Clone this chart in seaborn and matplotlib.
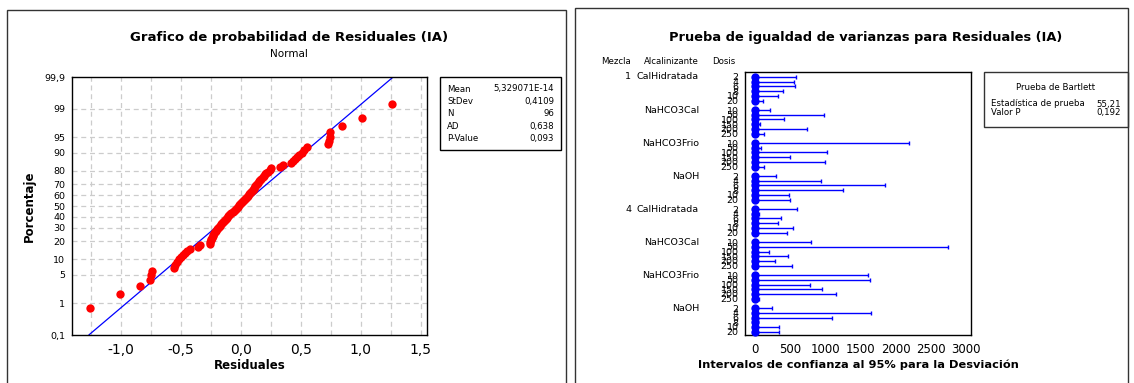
import numpy as np
import pandas as pd
import matplotlib
matplotlib.use("Agg")
import matplotlib.pyplot as plt
import matplotlib.transforms as mtransforms
from matplotlib.patches import Rectangle
import seaborn as sns
from statistics import NormalDist

# ---- left panel: residuals (sorted)
residuals = [
    -1.262, -1.006, -0.845, -0.757, -0.755, -0.742, -0.562, -0.548, -0.532, -0.515,
    -0.500, -0.485, -0.470, -0.450, -0.428, -0.360, -0.345, -0.262, -0.256, -0.250,
    -0.247, -0.243, -0.236, -0.230, -0.224, -0.217, -0.210, -0.202, -0.195, -0.187,
    -0.178, -0.170, -0.162, -0.153, -0.145, -0.137, -0.128, -0.118, -0.110, -0.101,
    -0.092, -0.080, -0.069, -0.061, -0.053, -0.045, -0.037, -0.028, -0.020, -0.011,
    -0.003, 0.006, 0.014, 0.023, 0.032, 0.041, 0.050, 0.058, 0.066, 0.074,
    0.082, 0.090, 0.098, 0.105, 0.112, 0.119, 0.126, 0.133, 0.140, 0.150,
    0.160, 0.170, 0.180, 0.190, 0.200, 0.212, 0.225, 0.238, 0.250, 0.327,
    0.348, 0.418, 0.430, 0.448, 0.466, 0.485, 0.505, 0.528, 0.553, 0.728,
    0.735, 0.742, 0.745, 0.840, 1.008, 1.256,
]
fit_mean = 0.0
fit_sd = 0.4109
prob_ticks = [0.1, 1, 5, 10, 20, 30, 40, 50, 60, 70, 80, 90, 95, 99, 99.9]
prob_labels = ["0,1", "1", "5", "10", "20", "30", "40", "50", "60", "70", "80", "90", "95", "99", "99,9"]
res_ticks = [-1.0, -0.5, 0.0, 0.5, 1.0, 1.5]
res_labels = ["-1,0", "-0,5", "0,0", "0,5", "1,0", "1,5"]
stat_names = ["Mean", "StDev", "N", "AD", "P-Value"]
stat_values = ["5,329071E-14", "0,4109", "96", "0,638", "0,093"]

# ---- right panel: intervals for the std deviation
mezcla = ["1", "4"]
alcalinizante = ["CalHidratada", "NaHCO3Cal", "NaHCO3Frio", "NaOH"]
dosis = [
    ["2", "4", "6", "8", "10", "20"],
    ["10", "50", "100", "150", "200", "250"],
    ["10", "50", "100", "150", "200", "250"],
    ["2", "4", "6", "8", "10", "20"],
]
sigma = [
    0.38, 0.36, 0.37, 0.26, 0.21, 0.08,
    0.14, 0.64, 0.27, 0.05, 0.48, 0.09,
    1.43, 0.05, 0.66, 0.33, 0.65, 0.08,
    0.19, 0.61, 1.20, 0.81, 0.32, 0.32,
    0.39, 0.04, 0.24, 0.21, 0.35, 0.29,
    0.52, 1.79, 0.13, 0.30, 0.19, 0.35,
    1.04, 1.06, 0.51, 0.62, 0.75, 0.04,
    0.15, 1.08, 0.71, 0.03, 0.22, 0.22,
]
upper = [
    578, 549, 563, 403, 322, 118,
    208, 976, 417, 71, 734, 132,
    2192, 80, 1018, 502, 990, 123,
    294, 933, 1842, 1246, 488, 497,
    592, 60, 365, 322, 540, 450,
    795, 2751, 203, 464, 289, 530,
    1600, 1633, 781, 947, 1155, 60,
    237, 1653, 1089, 40, 336, 336,
]
bartlett = [("Estadística de prueba", "55,21"), ("Valor P", "0,192")]

sns.set_style("white")
plt.rcParams["font.family"] = ["DejaVu Sans"]
plt.rcParams["text.color"] = "black"
plt.rcParams["axes.labelcolor"] = "black"
plt.rcParams["xtick.color"] = "black"
plt.rcParams["ytick.color"] = "black"

W, H = 1134, 383
fig = plt.figure(figsize=(W / 100, H / 100), dpi=100)


def fbox(x0, y0, x1, y1):
    # pixel box (top-left origin) -> figure fraction
    return [x0 / W, 1 - y1 / H, (x1 - x0) / W, (y1 - y0) / H]


def fx(x):
    return x / W


def fy(y):
    return 1 - y / H


# panel frames
for x0, y0, x1, y1 in [(7, 10, 566, 390), (575, 8, 1128, 390)]:
    fig.patches.append(Rectangle((fx(x0), fy(y1)), (x1 - x0) / W, (y1 - y0) / H,
                                 transform=fig.transFigure, fill=False,
                                 edgecolor="#333333", linewidth=1.0))

# ================= left: normal probability plot =================
nd = NormalDist()
n = len(residuals)
z = [nd.inv_cdf((i + 1 - 0.3) / (n + 0.4)) for i in range(n)]
df_prob = pd.DataFrame({"res": residuals, "z": z})

ax1 = fig.add_axes(fbox(72, 77, 427, 335))
zlo, zhi = nd.inv_cdf(0.001), nd.inv_cdf(0.999)
for p in prob_ticks[1:-1]:
    ax1.axhline(nd.inv_cdf(p / 100), color="#cccccc", lw=0.9, ls=(0, (4, 3)), zorder=0)
for xv in np.arange(-1.25, 1.51, 0.25):
    ax1.axvline(xv, color="#cccccc", lw=0.9, ls=(0, (4, 3)), zorder=0)

fit_df = pd.DataFrame({"z": [zlo, zhi]})
fit_df["res"] = fit_mean + fit_sd * fit_df["z"]
sns.lineplot(data=fit_df, x="res", y="z", ax=ax1, color="#0000ff", lw=0.9)
sns.scatterplot(data=df_prob, x="res", y="z", ax=ax1, color="#ff0000",
                s=36, edgecolor="#ff0000", linewidth=0, zorder=3)

ax1.set_xlim(-1.41, 1.552)
ax1.set_ylim(zlo, zhi)
ax1.set_yticks([nd.inv_cdf(p / 100) for p in prob_ticks])
ax1.set_yticklabels(prob_labels, fontsize=6.8)
ax1.set_xticks(res_ticks)
ax1.set_xticklabels(res_labels, fontsize=10)
ax1.tick_params(axis="both", direction="out", length=3, width=0.8, color="black", pad=2)
ax1.tick_params(axis="x", pad=3)
ax1.set_xlabel("Residuales", fontsize=8.5, fontweight="bold", labelpad=1)
ax1.set_ylabel("Porcentaje", fontsize=8.5, fontweight="bold", labelpad=6)
for sp in ax1.spines.values():
    sp.set_color("black")
    sp.set_linewidth(1.0)

fig.text(fx(289), fy(38), "Grafico de probabilidad de Residuales (IA)", ha="center",
         va="center", fontsize=9.5, fontweight="bold")
fig.text(fx(289), fy(54), "Normal", ha="center", va="center", fontsize=7.5)

# stats box
fig.patches.append(Rectangle((fx(440), fy(150)), 121 / W, 73 / H, transform=fig.transFigure,
                             fill=False, edgecolor="black", linewidth=1.0))
for k, (nm, val) in enumerate(zip(stat_names, stat_values)):
    yy = fy(89 + k * 12.5)
    fig.text(fx(447), yy, nm, ha="left", va="center", fontsize=6.2)
    fig.text(fx(554), yy, val, ha="right", va="center", fontsize=6.2)

# ================= right: equal variances test =================
rows = []
k = 0
for mi, m in enumerate(mezcla):
    for ai, a in enumerate(alcalinizante):
        for di, d in enumerate(dosis[ai]):
            rows.append({"mezcla": m, "alc": a, "dosis": d,
                         "pos": (mi * 4 + ai) * 7 + di,
                         "sigma": sigma[k], "upper": upper[k]})
            k += 1
df_var = pd.DataFrame(rows)

ax2 = fig.add_axes(fbox(745, 72, 971, 335))
ax2.hlines(df_var["pos"], df_var["sigma"], df_var["upper"], color="#0000ff", lw=1.0, zorder=2)
ax2.plot(df_var["upper"], df_var["pos"], ls="none", marker="|", ms=3, mew=1.0, color="#0000ff")
sns.scatterplot(data=df_var, x="sigma", y="pos", ax=ax2, color="#0000ff", s=36,
                edgecolor="#0000ff", linewidth=0, zorder=3, clip_on=False)
ax2.set_xlim(-142, 3071)
ax2.set_ylim(54.7, -1.06)
ax2.set_xticks([0, 500, 1000, 1500, 2000, 2500, 3000])
ax2.set_xticklabels(["0", "500", "1000", "1500", "2000", "2500", "3000"], fontsize=8.5)
ax2.set_yticks(df_var["pos"])
ax2.set_yticklabels(df_var["dosis"], fontsize=6.8)
ax2.tick_params(axis="both", direction="out", length=3, width=0.8, color="black", pad=1.5)
ax2.tick_params(axis="x", pad=3)
ax2.set_xlabel("Intervalos de confianza al 95% para la Desviación", fontsize=8.2,
               fontweight="bold", labelpad=2)
ax2.set_ylabel("")
for sp in ax2.spines.values():
    sp.set_color("black")
    sp.set_linewidth(1.0)

fig.text(fx(866), fy(38), "Prueba de igualdad de varianzas para Residuales (IA)",
         ha="center", va="center", fontsize=9.4, fontweight="bold")
fig.text(fx(616), fy(61), "Mezcla", ha="center", va="center", fontsize=6.2)
fig.text(fx(671), fy(61), "Alcalinizante", ha="center", va="center", fontsize=6.2)
fig.text(fx(724), fy(61), "Dosis", ha="center", va="center", fontsize=6.2)

trans = mtransforms.blended_transform_factory(fig.transFigure, ax2.transData)
for mi, m in enumerate(mezcla):
    ax2.text(fx(631), (mi * 4) * 7, m, transform=trans, ha="right", va="center", fontsize=6.8)
    for ai, a in enumerate(alcalinizante):
        ax2.text(fx(699), (mi * 4 + ai) * 7, a, transform=trans, ha="right", va="center",
                 fontsize=6.8)

# Bartlett box
fig.patches.append(Rectangle((fx(984), fy(127)), 144 / W, 55 / H, transform=fig.transFigure,
                             fill=False, edgecolor="#333333", linewidth=1.0))
fig.text(fx(1056), fy(88), "Prueba de Bartlett", ha="center", va="center", fontsize=6.2)
for j, (nm, val) in enumerate(bartlett):
    fig.text(fx(991), fy(104 + j * 8.5), nm, ha="left", va="center", fontsize=6.2)
    fig.text(fx(1121), fy(104 + j * 8.5), val, ha="right", va="center", fontsize=6.2)

fig.savefig("out.png", dpi=100, facecolor="white")
